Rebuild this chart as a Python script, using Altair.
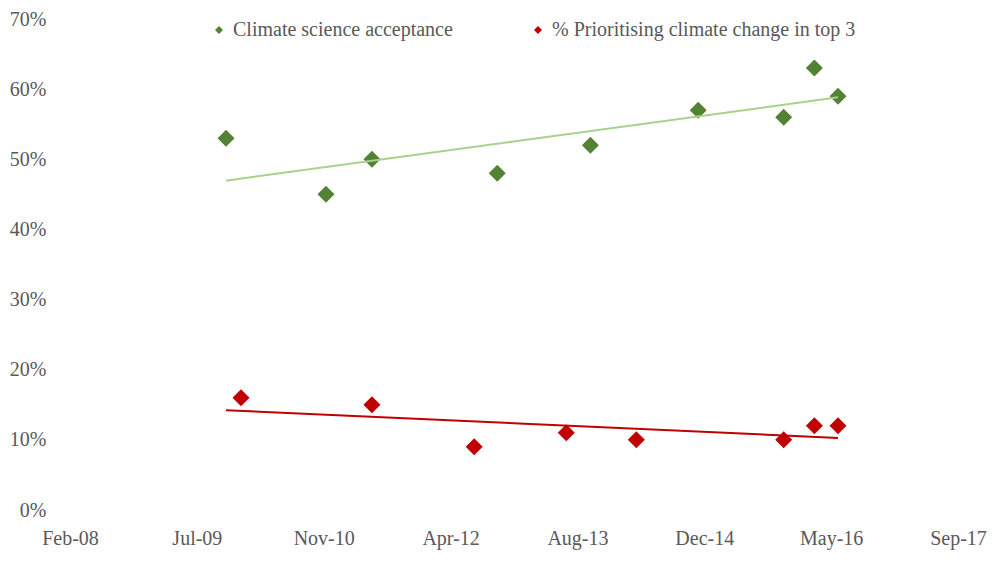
import altair as alt
import pandas as pd

green_name = "Climate science acceptance"
red_name = "% Prioritising climate change in top 3"

green_dates = ["2009-10-29", "2010-11-27", "2011-05-27", "2012-10-02", "2013-10-04",
               "2014-12-03", "2015-11-05", "2016-03-05", "2016-06-06"]
green_values = [53, 45, 50, 48, 52, 57, 56, 63, 59]

red_dates = ["2009-12-27", "2011-05-27", "2012-07-03", "2013-07-01", "2014-04-03",
             "2015-11-05", "2016-03-05", "2016-06-06"]
red_values = [16, 15, 9, 11, 10, 10, 12, 12]

tick_values = [39500, 40000, 40500, 41000, 41500, 42000, 42500, 43000]
tick_labels = ["Feb-08", "Jul-09", "Nov-10", "Apr-12", "Aug-13", "Dec-14", "May-16", "Sep-17"]
y_ticks = [0, 10, 20, 30, 40, 50, 60, 70]

green_color = "#548235"
green_trend = "#A9D18E"
red_color = "#C00000"
text_color = "#595959"
FONT = "Liberation Serif"

epoch = pd.Timestamp("1899-12-30")


def serial(dates):
    return [(pd.Timestamp(d) - epoch).days for d in dates]


df = pd.DataFrame({
    "serial": serial(green_dates) + serial(red_dates),
    "value": green_values + red_values,
    "series": [green_name] * len(green_values) + [red_name] * len(red_values),
})

x0 = min(serial(green_dates))
x1 = max(serial(green_dates + red_dates))

label_expr = "[" + ",".join("'%s'" % t for t in tick_labels) + "][round((datum.value - %d) / 500)]" % tick_values[0]

x_enc = alt.X("serial:Q",
              scale=alt.Scale(domain=[tick_values[0], tick_values[-1]], nice=False, zero=False),
              axis=alt.Axis(values=tick_values, labelExpr=label_expr, title=None, grid=False,
                            domain=False, ticks=False, labelPadding=18, labelFont=FONT,
                            labelFontSize=20, labelColor=text_color, labelFlush=False))
y_enc = alt.Y("value:Q",
              scale=alt.Scale(domain=[0, 70], nice=False),
              axis=alt.Axis(values=y_ticks, labelExpr="datum.value + '%'", title=None, grid=False,
                            domain=False, ticks=False, labelPadding=24, labelFont=FONT,
                            labelFontSize=20, labelColor=text_color))

base = alt.Chart(df)

points = base.mark_point(shape="diamond", filled=True, size=289, opacity=1).encode(
    x=x_enc, y=y_enc,
    color=alt.Color("series:N",
                    scale=alt.Scale(domain=[green_name, red_name], range=[green_color, red_color]),
                    legend=alt.Legend(title=None, orient="none", direction="horizontal",
                                      legendX=139, legendY=1, symbolType="diamond",
                                      symbolSize=64, symbolOpacity=1, labelFont=FONT,
                                      labelFontSize=20, labelColor=text_color,
                                      labelOffset=4, columnPadding=75, labelLimit=500)),
)

green_line = base.transform_filter(alt.datum.series == green_name).transform_regression(
    on="serial", regression="value", extent=[x0, x1]
).mark_line(color=green_trend, strokeWidth=2).encode(x=x_enc, y=y_enc)

red_line = base.transform_filter(alt.datum.series == red_name).transform_regression(
    on="serial", regression="value", extent=[x0, x1]
).mark_line(color=red_color, strokeWidth=2).encode(x=x_enc, y=y_enc)

chart = alt.layer(points, green_line, red_line).properties(
    width=888, height=491,
    autosize=alt.AutoSizeParams(type="none"),
    padding={"left": 62, "top": 11, "right": 34, "bottom": 45},
    background="white",
).configure_view(stroke=None)

chart.save("out.html", embed_options={"renderer": "svg", "actions": False})
